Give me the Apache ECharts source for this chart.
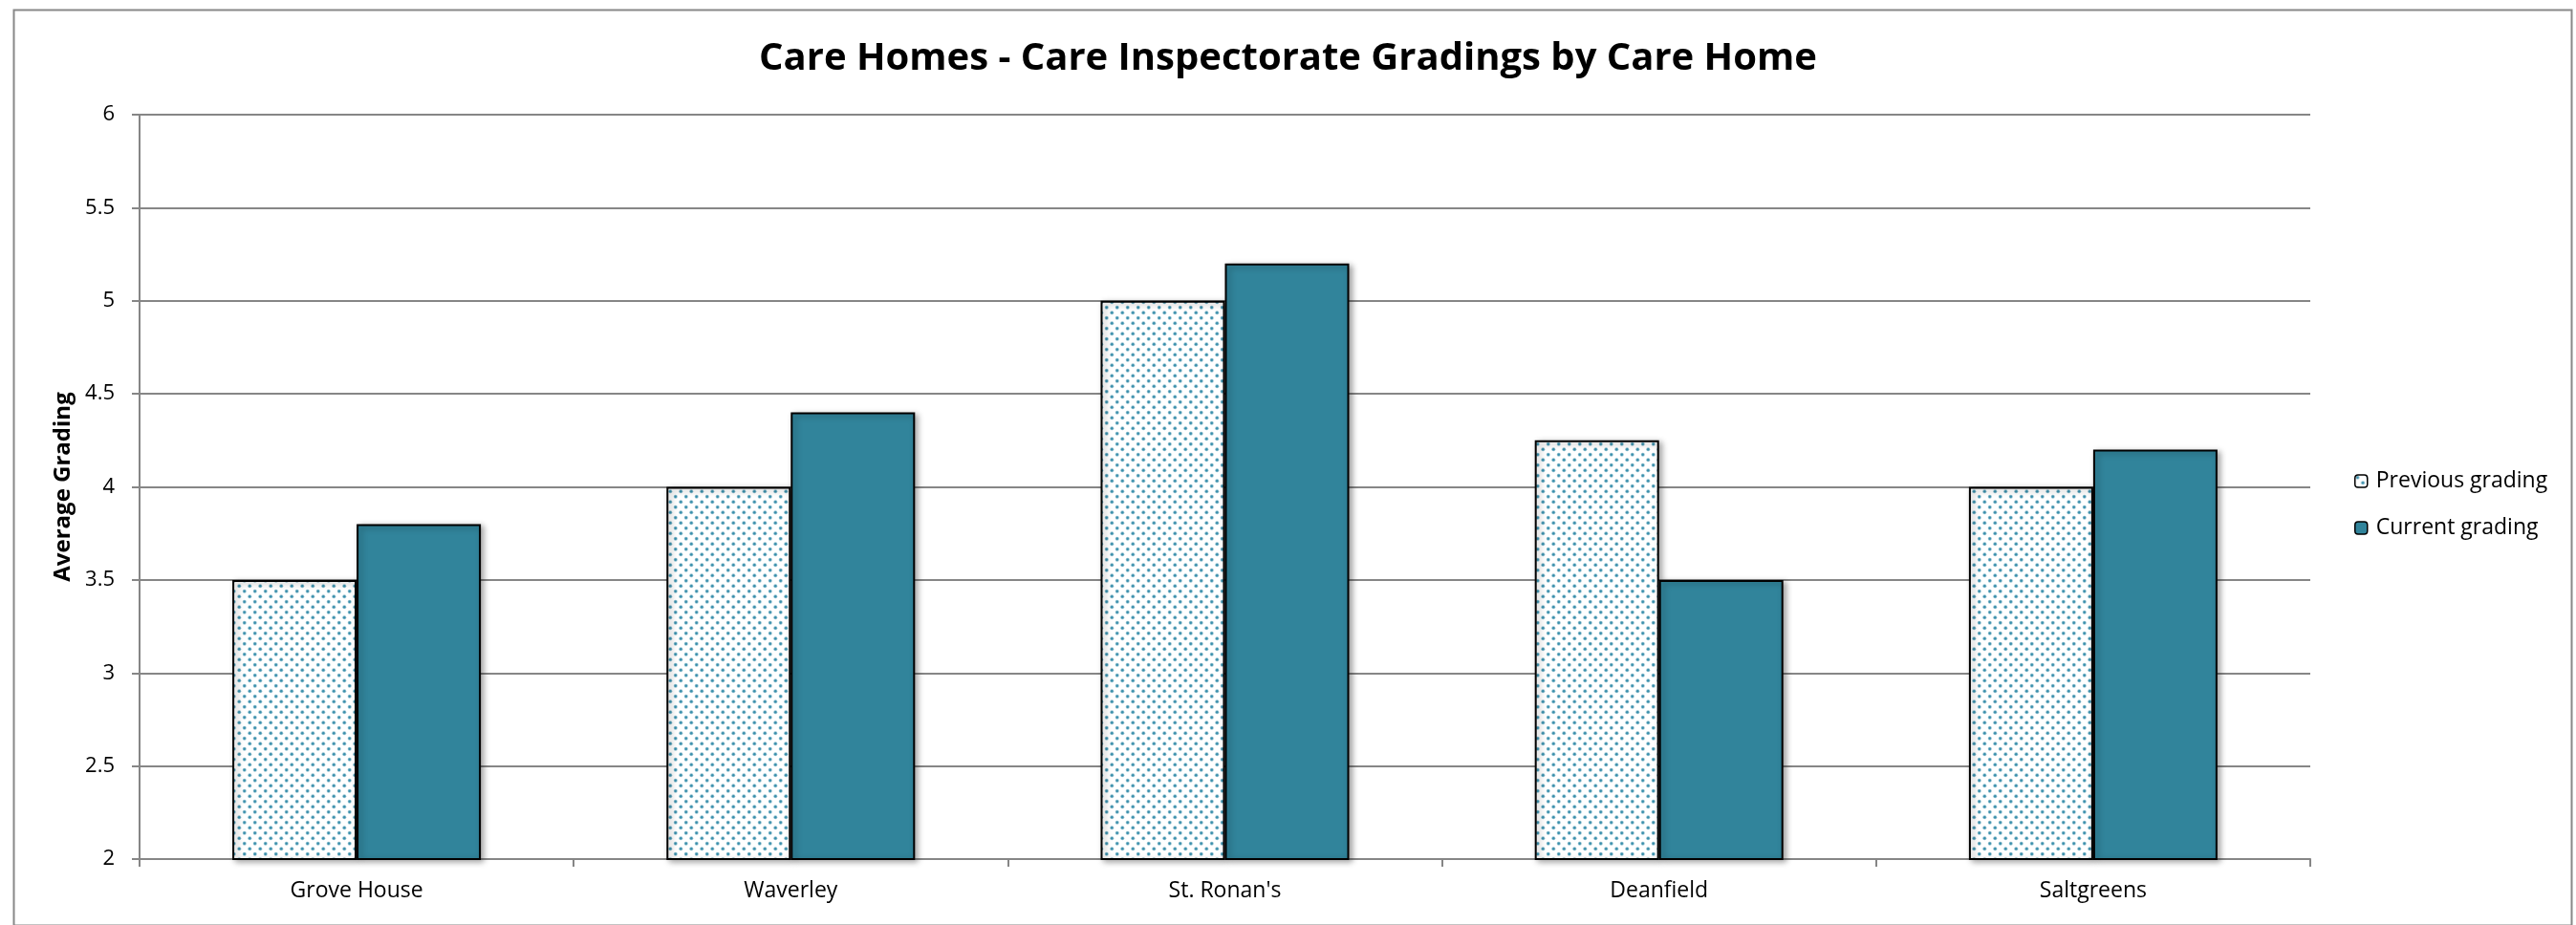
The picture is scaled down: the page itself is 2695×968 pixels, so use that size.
<!DOCTYPE html>
<html>
<head>
<meta charset="utf-8">
<script src="https://cdn.jsdelivr.net/npm/echarts@6/dist/echarts.min.js"></script>
<style>
html,body{margin:0;padding:0;background:#fff;}
#chart{width:2695px;height:968px;}
</style>
</head>
<body>
<div id="chart"></div>
<script>
const categories = ["Grove House", "Waverley", "St. Ronan's", "Deanfield", "Saltgreens"];
const previousGrading = [3.5, 4.0, 5.0, 4.25, 4.0];
const currentGrading = [3.8, 4.4, 5.2, 3.5, 4.2];
const seriesNames = ["Previous grading", "Current grading"];
const titleText = "Care Homes - Care Inspectorate Gradings by Care Home";
const yAxisName = "Average Grading";

// dotted pattern for the "previous" bars
const tile = document.createElement('canvas');
tile.width = 11; tile.height = 11;
const tc = tile.getContext('2d');
tc.fillStyle = '#ffffff';
tc.fillRect(0, 0, 11, 11);
[[2.75, 2.75], [8.25, 8.25]].forEach(function (p) {
  tc.fillStyle = 'rgba(70,150,176,0.6)';
  tc.beginPath(); tc.arc(p[0], p[1], 2.0, 0, Math.PI * 2); tc.fill();
  tc.fillStyle = '#3a8fab';
  tc.beginPath(); tc.arc(p[0], p[1], 1.2, 0, Math.PI * 2); tc.fill();
});
const dotted = { image: tile, repeat: 'repeat' };
const teal = '#31849b';

const chart = echarts.init(document.getElementById('chart'), null, { renderer: 'canvas' });
const font = '"Open Sans", "Noto Sans", sans-serif';
const shadow = { shadowColor: 'rgba(0,0,0,0.35)', shadowBlur: 6, shadowOffsetX: 3, shadowOffsetY: 2 };

chart.setOption({
  animation: false,
  backgroundColor: '#ffffff',
  title: {
    text: titleText,
    left: 'center',
    top: 37,
    textStyle: { fontFamily: font, fontWeight: 'bold', fontSize: 40, color: '#000' }
  },
  legend: {
    orient: 'vertical',
    left: 2458,
    top: 485,
    itemWidth: 13,
    itemHeight: 13,
    itemGap: 22,
    textStyle: { fontFamily: font, fontSize: 23, color: '#000', lineHeight: 27, padding: [0, 0, 0, 4] },
    data: [
      { name: seriesNames[0], itemStyle: { color: dotted, borderColor: '#000', borderWidth: 1.5 } },
      { name: seriesNames[1], itemStyle: { color: teal, borderColor: '#000', borderWidth: 1.5 } }
    ]
  },
  grid: { left: 146, right: 278, top: 120, bottom: 69 },
  xAxis: {
    type: 'category',
    data: categories,
    axisLine: { lineStyle: { color: '#868686', width: 2 } },
    axisTick: { show: true, alignWithLabel: false, length: 8, lineStyle: { color: '#868686', width: 2 } },
    axisLabel: { fontFamily: font, fontSize: 23, color: '#000', margin: 22 }
  },
  yAxis: {
    type: 'value',
    min: 2, max: 6, interval: 0.5,
    name: yAxisName,
    nameLocation: 'middle',
    nameRotate: 90,
    nameGap: 64,
    nameTextStyle: { fontFamily: font, fontSize: 24, fontWeight: 'bold', color: '#000' },
    axisLine: { show: true, lineStyle: { color: '#868686', width: 2 } },
    axisTick: { show: true, length: 8, inside: false, lineStyle: { color: '#868686', width: 2 } },
    splitLine: { lineStyle: { color: '#868686', width: 2 } },
    axisLabel: { fontFamily: font, fontSize: 22, color: '#000', margin: 26 }
  },
  graphic: [{
    type: 'rect',
    left: 12, top: 8,
    shape: { width: 2676, height: 958 },
    style: { fill: 'none', stroke: '#888888', lineWidth: 2 },
    silent: true, z: 100
  }],
  series: [
    {
      name: seriesNames[0], type: 'bar', data: previousGrading,
      barWidth: 130, barGap: '0%',
      itemStyle: Object.assign({ color: dotted, borderColor: '#000', borderWidth: 2 }, shadow)
    },
    {
      name: seriesNames[1], type: 'bar', data: currentGrading,
      barWidth: 130, barGap: '0%',
      itemStyle: Object.assign({ color: teal, borderColor: '#000', borderWidth: 2 }, shadow)
    }
  ]
});
</script>
</body>
</html>
